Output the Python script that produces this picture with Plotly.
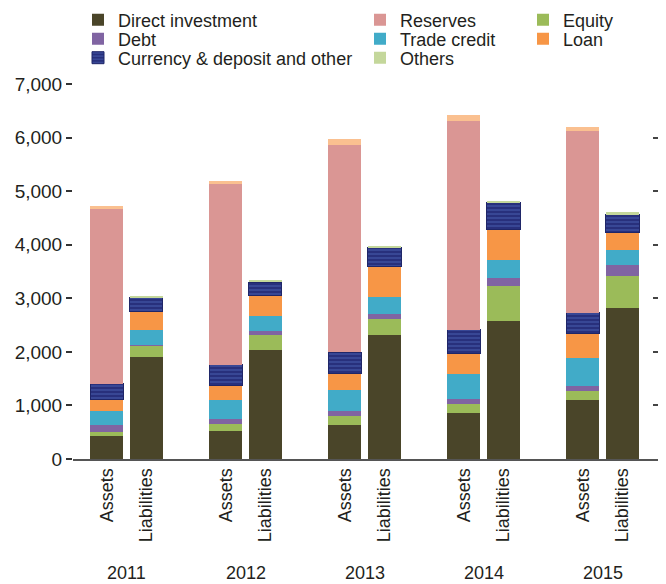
import plotly.graph_objects as go

# Valeurs (ordre : 2011 actifs, 2011 passifs, 2012 actifs, ...)
years = ["2011", "2012", "2013", "2014", "2015"]
sides = ["Assets", "Liabilities"]

direct_investment = [422, 1896, 528, 2039, 640, 2319, 864, 2580, 1106, 2823]
equity = [75, 218, 131, 280, 168, 298, 168, 653, 168, 597]
debt = [130, 18, 93, 75, 93, 94, 93, 149, 94, 205]
trade_credit = [274, 267, 354, 280, 392, 317, 466, 336, 522, 280]
loan = [205, 349, 262, 373, 311, 560, 374, 560, 448, 317]
currency_deposit = [299, 267, 391, 249, 385, 361, 448, 504, 392, 336]
reserves = [3270, 0, 3377, 0, 3875, 0, 3900, 0, 3397, 0]
others = [51, 32, 56, 49, 112, 31, 112, 37, 74, 56]

# positions : actifs et passifs côte à côte, un écart entre les années
xpos = [3 * i + j for i in range(len(years)) for j in range(len(sides))]
labels = [s for _ in years for s in sides]

FONT = "Liberation Sans, Arial, sans-serif"
TXT = "#231f20"
W = 0.835

fig = go.Figure()

def add(name, vals, color, legend, **kw):
    fig.add_trace(go.Bar(x=xpos, y=vals, name=name, width=W, marker_color=color,
                         legend=legend, **kw))

add("Direct investment", direct_investment, "#4a4529", "legend", marker_line_width=0)
add("Equity", equity, "#9bbb59", "legend3", marker_line_width=0)
add("Debt", debt, "#8064a2", "legend4", marker_line_width=0)
add("Trade credit", trade_credit, "#41abc8", "legend5", marker_line_width=0)
add("Loan", loan, "#f79646", "legend6", marker_line_width=0)
add("Currency & deposit and other", currency_deposit, "#28307c", "legend7",
    marker_line=dict(width=1, color="#1f2668"),
    marker_pattern=dict(shape="-", fgcolor="#5068bb", size=4, solidity=0.4, fillmode="overlay"))
add("Reserves", reserves, "#da9694", "legend2", marker_line_width=0)

# le sommet des barres d'actifs est pêche, celui des passifs vert clair
xa = [x for x, s in zip(xpos, labels) if s == "Assets"]
xl = [x for x, s in zip(xpos, labels) if s == "Liabilities"]
others_a = [v for v, s in zip(others, labels) if s == "Assets"]
others_l = [v for v, s in zip(others, labels) if s == "Liabilities"]
fig.add_trace(go.Bar(x=xa, y=others_a, name="Others", width=W, marker_color="#fac090",
                     marker_line_width=0, showlegend=False, legend="legend8"))
fig.add_trace(go.Bar(x=xl, y=others_l, name="Others", width=W, marker_color="#c4d79b",
                     marker_line_width=0, legend="legend8"))

# trace vide pour faire apparaître les graduations à droite
fig.add_trace(go.Scatter(x=[None], y=[None], yaxis="y2", showlegend=False, hoverinfo="skip"))

# coordonnées en pixels de la page (la page ajoute une marge de 8 px autour de la figure)
OFF = 8
FW, FH = 666 - OFF, 584 - OFF
L, R, T, B = 73, 661, 84, 459
def px_x(p):
    return (p - L) / (R - L)
def px_y(p):
    return (B - p) / (B - T)

# une légende par entrée, placée à la main (3 colonnes)
leg = dict(font=dict(family=FONT, size=18, color=TXT), bgcolor="rgba(0,0,0,0)",
           xanchor="left", yanchor="middle", borderwidth=0, itemclick=False)
cols = [78, 360, 523]
rows = [20, 39, 58]
placement = {
    "legend": (cols[0], rows[0]), "legend2": (cols[1], rows[0]), "legend3": (cols[2], rows[0]),
    "legend4": (cols[0], rows[1]), "legend5": (cols[1], rows[1]), "legend6": (cols[2], rows[1]),
    "legend7": (cols[0], rows[2]), "legend8": (cols[1], rows[2]),
}
legends = {k: dict(leg, x=px_x(cx), y=px_y(cy)) for k, (cx, cy) in placement.items()}

for i, yr in enumerate(years):
    fig.add_annotation(x=3 * i + 0.5, y=px_y(573), xref="x", yref="paper", text=yr,
                       yanchor="middle", showarrow=False,
                       font=dict(family=FONT, size=18, color=TXT))

fig.update_layout(
    width=FW, height=FH, barmode="stack",
    margin=dict(l=L - OFF, r=FW + OFF - R, t=T - OFF, b=FH + OFF - B, autoexpand=False),
    plot_bgcolor="white", paper_bgcolor="white",
    font=dict(family=FONT, size=19, color=TXT),
    showlegend=True,
    xaxis=dict(range=[-0.85, 13.97], tickvals=xpos, ticktext=labels, tickangle=-90,
               tickfont=dict(size=18), showgrid=False, zeroline=False, automargin=False,
               showline=True, linecolor="#555555", linewidth=2, ticks=""),
    yaxis=dict(range=[0, 7000], dtick=1000, tickformat=",", showgrid=False, automargin=False,
               zeroline=False, showline=False, ticks="outside", ticklen=6,
               tickcolor="#333333", tickwidth=1.5),
    yaxis2=dict(range=[0, 7000], dtick=1000, overlaying="y", side="right", automargin=False,
                showticklabels=False, showgrid=False, zeroline=False, showline=False,
                ticks="inside", ticklen=8, tickcolor="#444444", tickwidth=1.5),
    **legends,
)

fig.write_html("out.html")
